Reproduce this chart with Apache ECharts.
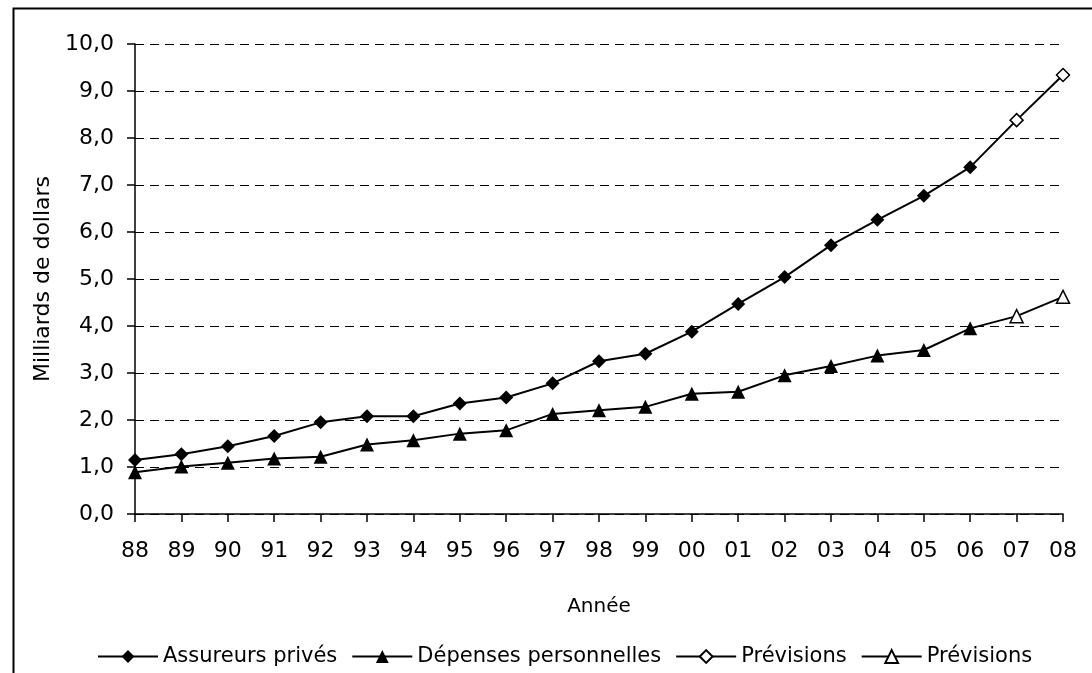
<!DOCTYPE html>
<html><head><meta charset="utf-8">
<script src="https://cdn.jsdelivr.net/npm/echarts@6/dist/echarts.min.js"></script>
<style>html,body{margin:0;padding:0;background:#fff}#c{width:1092px;height:673px}</style>
</head><body><div id="c"></div>
<script>
var years = ['88','89','90','91','92','93','94','95','96','97','98','99','00','01','02','03','04','05','06','07','08'];
var assureurs = [1.15,1.27,1.44,1.66,1.95,2.08,2.08,2.35,2.48,2.78,3.25,3.41,3.88,4.47,5.04,5.72,6.26,6.77,7.38,null,null];
var depenses = [0.89,1.01,1.09,1.18,1.22,1.48,1.57,1.71,1.78,2.13,2.21,2.28,2.56,2.60,2.95,3.15,3.37,3.49,3.95,null,null];
var previsionsA = [null,null,null,null,null,null,null,null,null,null,null,null,null,null,null,null,null,null,7.38,8.38,9.34];
var previsionsD = [null,null,null,null,null,null,null,null,null,null,null,null,null,null,null,null,null,null,3.95,4.21,4.62];
var yTicks = [0,1,2,3,4,5,6,7,8,9,10];

var FONT = 'DejaVu Sans';
function fc(arr){ // hide the shared 06 point's hollow marker
  return arr.map(function(v,i){ return (v!==null && i===18) ? {value:v, symbol:'none'} : v; });
}
var chart = echarts.init(document.getElementById('c'), null, {renderer:'canvas'});
chart.setOption({
  animation:false,
  backgroundColor:'#fff',
  textStyle:{fontFamily:FONT, color:'#000'},
  graphic:[{type:'rect', left:11, top:6, shape:{width:1200, height:800},
    style:{fill:'none', stroke:'#000', lineWidth:2}, silent:true, z:-1}],
  grid:{left:135, right:29, top:44, bottom:159, containLabel:false},
  xAxis:{type:'category', data:years, boundaryGap:false,
    axisLine:{lineStyle:{color:'#000', width:1.5}},
    axisTick:{show:true, length:8, inside:false, lineStyle:{color:'#000', width:1.5}},
    axisLabel:{fontSize:22, color:'#000', margin:26, fontFamily:FONT},
    name:'Année', nameLocation:'middle', nameGap:83,
    nameTextStyle:{fontSize:20, color:'#000', fontFamily:FONT},
    splitLine:{show:false}},
  yAxis:{type:'value', min:yTicks[0], max:yTicks[yTicks.length-1], interval:1,
    axisLine:{show:true, lineStyle:{color:'#000', width:1.5}},
    axisTick:{show:true, length:8, lineStyle:{color:'#000', width:1.5}},
    axisLabel:{fontSize:22, color:'#000', margin:21, fontFamily:FONT,
      formatter:function(v){return v.toFixed(1).replace('.',',');}},
    splitLine:{show:true, lineStyle:{color:'#000', width:1, type:[9,6]}},
    name:'Milliards de dollars', nameLocation:'middle', nameGap:80,
    nameTextStyle:{fontSize:22, color:'#000', fontFamily:FONT}},
  legend:{bottom:1, left:92, itemWidth:60, itemHeight:16, itemGap:14,
    textStyle:{fontSize:21, color:'#000', fontFamily:FONT},
    data:['Assureurs privés','Dépenses personnelles','Prévisions','Prévisions '],
    formatter:function(n){return n.trim();}},
  series:[
    {name:'Prévisions', type:'line', data:fc(previsionsA), symbol:'diamond', symbolSize:13,
      lineStyle:{color:'#000', width:2}, itemStyle:{color:'#fff', borderColor:'#000', borderWidth:1.5}, z:2},
    {name:'Prévisions ', type:'line', data:fc(previsionsD), symbol:'triangle', symbolSize:13,
      lineStyle:{color:'#000', width:2}, itemStyle:{color:'#fff', borderColor:'#000', borderWidth:1.5}, z:2},
    {name:'Assureurs privés', type:'line', data:assureurs, symbol:'diamond', symbolSize:14,
      lineStyle:{color:'#000', width:2}, itemStyle:{color:'#000'}, z:3},
    {name:'Dépenses personnelles', type:'line', data:depenses, symbol:'triangle', symbolSize:14,
      lineStyle:{color:'#000', width:2}, itemStyle:{color:'#000'}, z:3}
  ]
});
</script></body></html>
